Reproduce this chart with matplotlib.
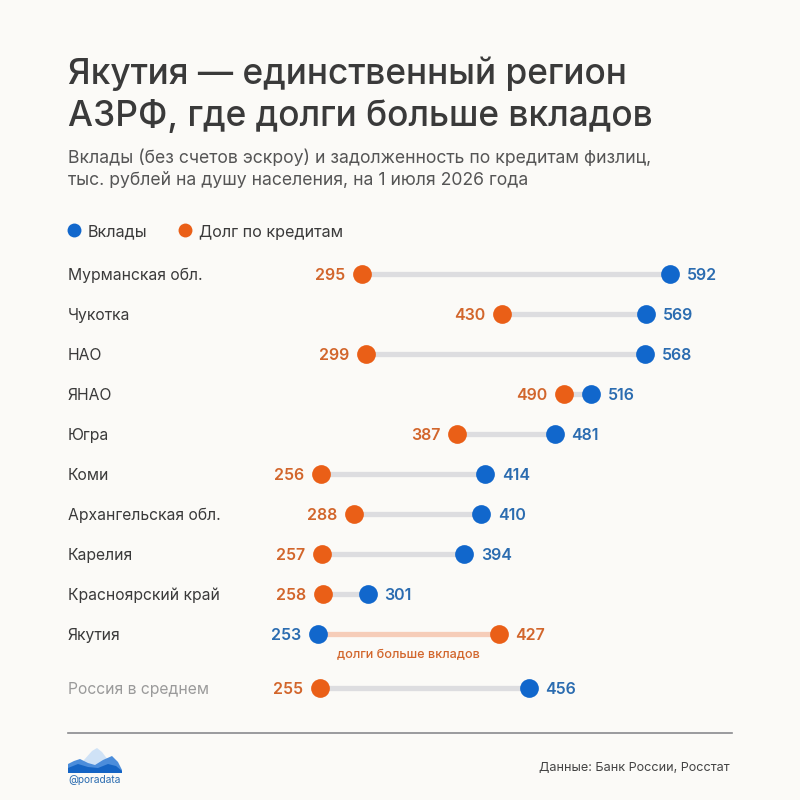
import matplotlib
matplotlib.use('Agg')
import numpy as np
from matplotlib import pyplot as plt
from matplotlib.patches import Polygon

# data
regions = ['Мурманская обл.', 'Чукотка', 'НАО', 'ЯНАО', 'Югра', 'Коми',
           'Архангельская обл.', 'Карелия', 'Красноярский край', 'Якутия',
           'Россия в среднем']
deposits = [592, 569, 568, 516, 481, 414, 410, 394, 301, 253, 456]
debts = [295, 430, 299, 490, 387, 256, 288, 257, 258, 427, 255]

# style
BG = '#FBFAF7'
BLUE = '#1167CC'
ORANGE = '#EA5F17'
BLUE_TXT = '#2B6CB0'
ORANGE_TXT = '#D2662C'
GRAY_LINE = '#DDDDE0'
PINK_LINE = '#F6CDB9'
DARK = '#3A3A3A'

plt.rcParams['font.family'] = ['Inter', 'DejaVu Sans']

W = 800
fig = plt.figure(figsize=(8, 8), dpi=100, facecolor=BG)

# x axis: value -> pixel (x = 55.4 + 1.038 * v)
px_per_unit = 1.038
x0_px = 55.4
xmax = 700
ax = fig.add_axes([x0_px / W, 0, xmax * px_per_unit / W, 1])
ax.set_xlim(0, xmax)
ax.set_ylim(W, 0)  # y in pixels from top
ax.axis('off')
ax.set_facecolor('none')

row_y = [274 + 40 * i for i in range(10)] + [688]
dy = 1.5  # text nudge down

for i, (name, dep, debt) in enumerate(zip(regions, deposits, debts)):
    y = row_y[i]
    line_col = PINK_LINE if debt > dep else GRAY_LINE
    ax.plot([dep, debt], [y, y], color=line_col, lw=3.8, solid_capstyle='butt', zorder=1)
    ax.plot(dep, y, 'o', color=BLUE, ms=13.5, mec='none', zorder=3)
    ax.plot(debt, y, 'o', color=ORANGE, ms=13.5, mec='none', zorder=3)
    lo, hi = min(dep, debt), max(dep, debt)
    lo_col = BLUE_TXT if lo == dep else ORANGE_TXT
    hi_col = BLUE_TXT if hi == dep else ORANGE_TXT
    ax.annotate(str(lo), (lo, y + dy), xytext=(-12, 0), textcoords='offset points',
                ha='right', va='center', fontsize=11.5, fontweight='semibold', color=lo_col)
    ax.annotate(str(hi), (hi, y + dy), xytext=(12, 0), textcoords='offset points',
                ha='left', va='center', fontsize=11.5, fontweight='semibold', color=hi_col)
    lab_col = '#9A9A9A' if name == 'Россия в среднем' else DARK
    fig.text(68 / W, 1 - (y + dy) / W, name, ha='left', va='center', fontsize=11.3,
             color=lab_col)
    if debt > dep:
        ax.annotate('долги больше вкладов', ((dep + debt) / 2, y), xytext=(0, -15.5),
                    textcoords='offset points', ha='center', va='center',
                    fontsize=9.1, fontweight='medium', color=ORANGE_TXT)

# title & subtitle
fig.text(68 / W, 1 - 74 / W, 'Якутия — единственный регион', fontsize=25.4,
         fontweight='medium', color=DARK, va='center', ha='left')
fig.text(68 / W, 1 - 116 / W, 'АЗРФ, где долги больше вкладов', fontsize=25.4,
         fontweight='medium', color=DARK, va='center', ha='left')
fig.text(68 / W, 1 - 158 / W, 'Вклады (без счетов эскроу) и задолженность по кредитам физлиц,',
         fontsize=12.7, color='#555555', va='center', ha='left')
fig.text(68 / W, 1 - 181 / W, 'тыс. рублей на душу населения, на 1 июля 2026 года',
         fontsize=12.7, color='#555555', va='center', ha='left')

# legend
fig.text(88 / W, 1 - 232 / W, 'Вклады', fontsize=11.6, color=DARK, va='center')
fig.text(199 / W, 1 - 232 / W, 'Долг по кредитам', fontsize=11.6, color=DARK, va='center')
lax = fig.add_axes([0, 0, 1, 1])
lax.set_xlim(0, W)
lax.set_ylim(W, 0)
lax.axis('off')
lax.patch.set_alpha(0)
lax.plot(74, 230, 'o', color=BLUE, ms=10, mec='none')
lax.plot(185, 230, 'o', color=ORANGE, ms=10, mec='none')

# footer
lax.plot([68, 732], [733, 733], color='#8A8A8E', lw=1.2)
# logo
lax.add_patch(Polygon([[74, 773], [84, 760], [92, 751], [97, 748], [102, 752],
                       [108, 760], [114, 773]], closed=True, color='#CFE2F6', lw=0))
lax.add_patch(Polygon([[68, 773], [68, 764], [74, 761], [80, 759], [88, 763], [95, 765],
                       [103, 760], [112, 756], [118, 762], [122, 770], [122, 773]],
                      closed=True, color='#4B8DDB', lw=0))
lax.add_patch(Polygon([[68, 773], [68, 768], [78, 764], [88, 767], [98, 768], [108, 764],
                       [116, 766], [122, 771], [122, 773]], closed=True, color='#1464C4', lw=0))
fig.text(68 / W, 1 - 780 / W, '@poradata', fontsize=7.3, color='#2B6CB0', va='center')
fig.text(730 / W, 1 - 768 / W, 'Данные: Банк России, Росстат', fontsize=9.1,
         color='#444444', va='center', ha='right')

fig.savefig('out.png', dpi=100, facecolor=BG)
